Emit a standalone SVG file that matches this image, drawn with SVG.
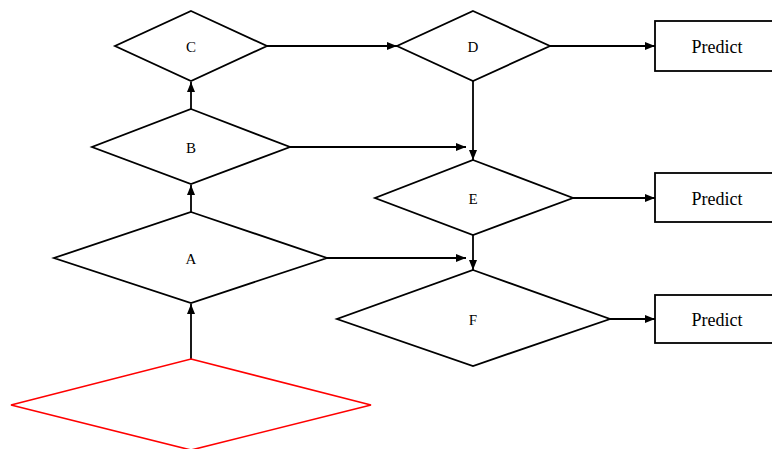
<svg xmlns="http://www.w3.org/2000/svg" width="772" height="449" viewBox="0 0 772 449">
<style>
.n{fill:#fff;stroke:#000;stroke-width:1.8}
.r{fill:#fff;stroke:#f00;stroke-width:1.6}
.c{fill:none;stroke:#000;stroke-width:1.8}
.t{font-family:"Liberation Serif",serif;font-size:15px;fill:#000;text-anchor:middle;dominant-baseline:central}
.p{font-family:"Liberation Serif",serif;font-size:18px;fill:#000;text-anchor:middle;dominant-baseline:central}
</style>
<defs>
<marker id="ah" viewBox="0 0 10 8" refX="10" refY="4" markerWidth="10" markerHeight="8" markerUnits="userSpaceOnUse" orient="auto">
<path d="M0,0 L10,4 L0,8 Z" fill="#000"/>
</marker>
</defs>
<rect width="772" height="449" fill="#fff"/>
<g id="connectors">
<path class="c" d="M191,359 L191,304" marker-end="url(#ah)"/>
<path class="c" d="M191,212 L191,185" marker-end="url(#ah)"/>
<path class="c" d="M191,109 L191,82" marker-end="url(#ah)"/>
<path class="c" d="M267,46 L397,46" marker-end="url(#ah)"/>
<path class="c" d="M550,46 L655,46" marker-end="url(#ah)"/>
<path class="c" d="M473,81 L473,160" marker-end="url(#ah)"/>
<path class="c" d="M290,147 L466,147" marker-end="url(#ah)"/>
<path class="c" d="M573,198 L655,198" marker-end="url(#ah)"/>
<path class="c" d="M473,235 L473,270" marker-end="url(#ah)"/>
<path class="c" d="M327,258 L466,258" marker-end="url(#ah)"/>
<path class="c" d="M610,319 L655,319" marker-end="url(#ah)"/>
</g>
<g id="root"><polygon class="r" points="191,359 371,405 191,450 11,405"/></g>
<g id="A"><polygon class="n" points="191,212 327,258 191,303 54,258"/><text class="t" x="191" y="259">A</text></g>
<g id="B"><polygon class="n" points="191,109 290,147 191,184 92,147"/><text class="t" x="191" y="148">B</text></g>
<g id="C"><polygon class="n" points="191,11 267,46 191,81 115,46"/><text class="t" x="191" y="47">C</text></g>
<g id="D"><polygon class="n" points="473,11 550,46 473,81 397,46"/><text class="t" x="473" y="47">D</text></g>
<g id="E"><polygon class="n" points="473,160 573,198 473,235 375,198"/><text class="t" x="473" y="199">E</text></g>
<g id="F"><polygon class="n" points="473,270 610,319 473,366 337,319"/><text class="t" x="473" y="320">F</text></g>
<g id="P1"><rect class="n" x="655" y="21" width="125" height="50"/><text class="p" x="717" y="47">Predict</text></g>
<g id="P2"><rect class="n" x="655" y="173" width="125" height="49"/><text class="p" x="717" y="199">Predict</text></g>
<g id="P3"><rect class="n" x="655" y="295" width="125" height="48"/><text class="p" x="717" y="320">Predict</text></g>
</svg>
